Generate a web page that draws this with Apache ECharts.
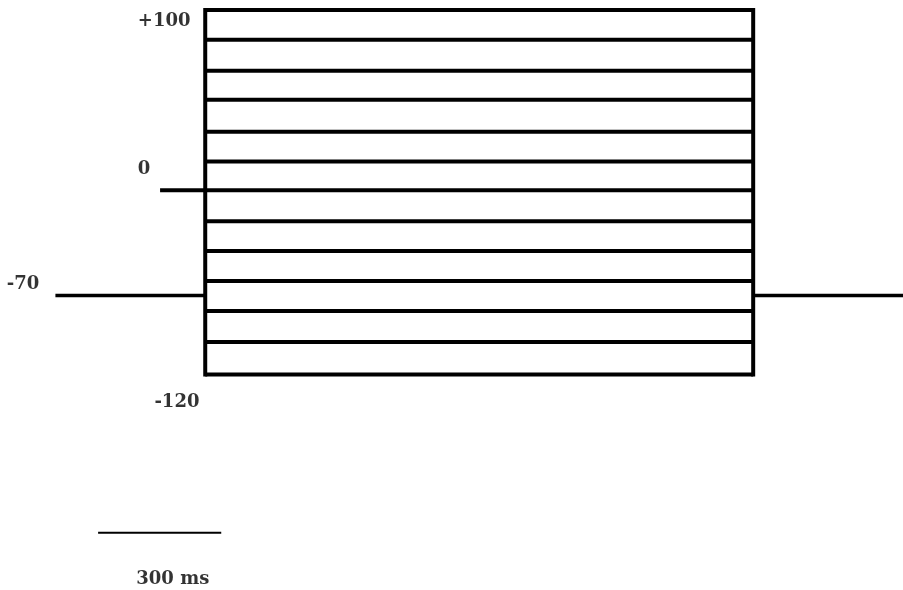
<!DOCTYPE html>
<html>
<head>
<meta charset="utf-8">
<script src="https://cdn.jsdelivr.net/npm/echarts@6/dist/echarts.min.js"></script>
<style>html,body{margin:0;padding:0;background:#fff}#c{width:903px;height:590px}</style>
</head>
<body>
<div id="c"></div>
<script>
// Step protocol (schematic; y in mV-like units, x in ms)
const stepLevels = [100, 82.0, 63.3, 45.9, 26.6, 8.6, -8.8, -27.5, -45.5, -63.6, -81.6, -100.3, -120];
const stepStart = 500;
const stepEnd = 1835;
const holdLevel = -72.3;
const holdBefore = [135, 500];
const holdAfter = [1835, 2200];
const zeroLead = [390, 500];
const zeroLevel = -8.8;
const scaleBarX = [239, 539];
const scaleBarY = -215.5;
const labelTexts = ['+100', '0', '-70', '-120', '300 ms'];
const labelX = [400, 351, 56, 431, 421];
const labelY = [93.4, 4.0, -65.4, -137.0, -243.5];

const chart = echarts.init(document.getElementById('c'));
const black = '#000';
const series = [];
stepLevels.forEach(function (v) {
  series.push({type: 'line', data: [[stepStart, v], [stepEnd, v]], symbol: 'none',
    lineStyle: {color: black, width: 4}, clip: false});
});
const stepTop = Math.max.apply(null, stepLevels), stepBot = Math.min.apply(null, stepLevels);
[stepStart, stepEnd].forEach(function (x) {
  series.push({type: 'line', data: [[x, stepTop], [x, stepBot]], symbol: 'none',
    lineStyle: {color: black, width: 4, cap: 'square'}, clip: false});
});
series.push({type: 'line', data: [[holdBefore[0], holdLevel], [holdBefore[1], holdLevel]], symbol: 'none', lineStyle: {color: black, width: 3.5}, clip: false});
series.push({type: 'line', data: [[holdAfter[0], holdLevel], [holdAfter[1], holdLevel]], symbol: 'none', lineStyle: {color: black, width: 3.5}, clip: false});
series.push({type: 'line', data: [[zeroLead[0], zeroLevel], [zeroLead[1], zeroLevel]], symbol: 'none', lineStyle: {color: black, width: 4}, clip: false});
series.push({type: 'line', data: [[scaleBarX[0], scaleBarY], [scaleBarX[1], scaleBarY]], symbol: 'none', lineStyle: {color: black, width: 2}, clip: false});
series.push({type: 'scatter', symbolSize: 0, clip: false,
  data: labelTexts.map(function (t, i) { return {value: [labelX[i], labelY[i]], name: t}; }),
  label: {show: true, position: 'inside', formatter: '{b}', color: black,
    textBorderWidth: 0,
    fontFamily: 'DejaVu Serif', fontWeight: 'bold', fontSize: 18}});

chart.setOption({
  animation: false,
  backgroundColor: '#fff',
  grid: {left: 0, right: 0, top: 10, height: 582},
  xAxis: {type: 'value', min: 0, max: 2200, show: false},
  yAxis: {type: 'value', min: -250, max: 100, show: false},
  series: series
});
</script>
</body>
</html>
